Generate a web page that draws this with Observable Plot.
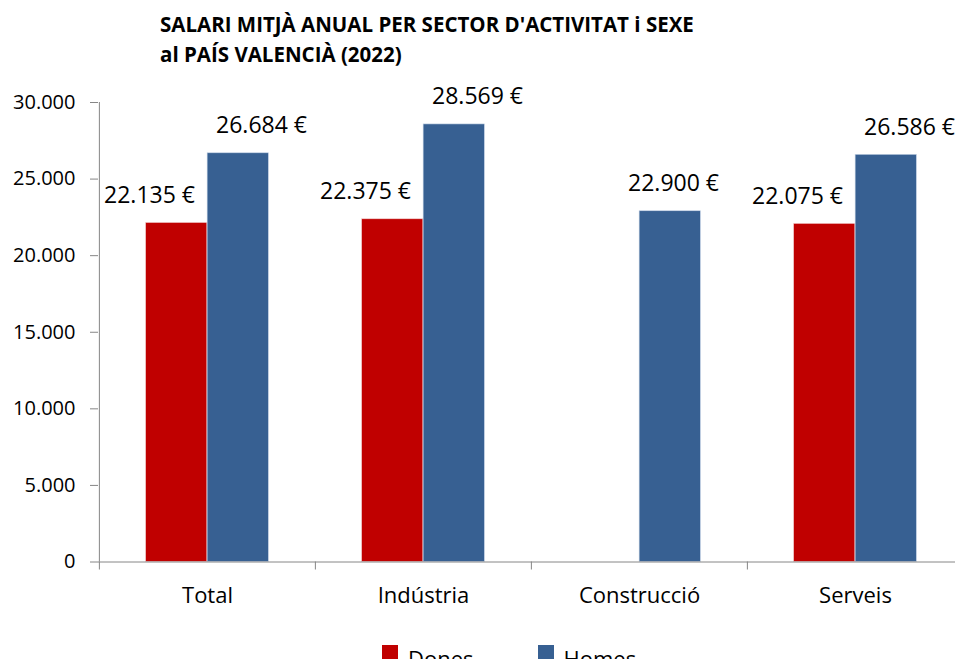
<!DOCTYPE html>
<html>
<head>
<meta charset="utf-8">
<script src="https://cdn.jsdelivr.net/npm/d3@7"></script>
<script src="https://cdn.jsdelivr.net/npm/@observablehq/plot@0.6"></script>
<style>
  html, body { margin: 0; padding: 0; background: #fff; overflow: hidden; }
  #wrap { position: relative; width: 955px; height: 659px; overflow: hidden; font-family: "Open Sans", sans-serif; color: #000; }
  #chart { position: absolute; left: 0; top: 0; width: 1000px; }
  #chart svg { max-width: none !important; }
  #title { position: absolute; left: 160px; top: 9px; font-weight: bold; font-size: 20.5px; line-height: 30px; white-space: nowrap; }
  #legend { position: absolute; top: 641px; left: 382px; font-size: 22px; white-space: nowrap; }
  #legend span.item { display: inline-flex; align-items: flex-start; }
  #legend span.sw { display: inline-block; width: 16px; height: 20px; margin-top: 2px; margin-right: 10px; }
</style>
</head>
<body>
<div id="wrap">
  <div id="chart"></div>
  <div id="title">SALARI MITJÀ ANUAL PER SECTOR D'ACTIVITAT i SEXE<br>al PAÍS VALENCIÀ (2022)</div>
  <div id="legend"></div>
</div>
<script>
// ---- data ----
const categories = ["Total", "Indústria", "Construcció", "Serveis"];
const dones = [22135, 22375, null, 22075];
const homes = [26684, 28569, 22900, 26586];
const seriesNames = ["Dones", "Homes"];
const yTicks = [0, 5000, 10000, 15000, 20000, 25000, 30000];

// ---- styling ----
const colors = {Dones: "#C00000", Homes: "#376092"};
const loc = d3.formatLocale({decimal: ",", thousands: ".", grouping: [3], currency: ["", " €"]});
const fmt = loc.format(",d");
const euro = v => fmt(v) + " €";

const rowsD = categories.map((c, i) => ({cat: c, v: dones[i]})).filter(d => d.v != null);
const rowsH = categories.map((c, i) => ({cat: c, v: homes[i]})).filter(d => d.v != null);

const width = 970, marginLeft = 98, marginRight = 7;
const band = (width - marginLeft - marginRight) / categories.length;
const half = band / 2;
const barW = 61.5;
const outer = half - barW;

const chart = Plot.plot({
  width,
  height: 659,
  marginLeft,
  marginRight,
  marginTop: 102,
  marginBottom: 97.5,
  style: {fontFamily: "Open Sans, sans-serif", color: "#000", background: "transparent", overflow: "visible", maxWidth: "none"},
  x: {type: "band", domain: categories, padding: 0, axis: null, label: null},
  y: {domain: [0, 30000], axis: null, label: null},
  marks: [
    Plot.barY(rowsD, {x: "cat", y: "v", fill: colors.Dones, insetLeft: outer, insetRight: half, stroke: "#f2d0d0", strokeWidth: 0.6}),
    Plot.barY(rowsH, {x: "cat", y: "v", fill: colors.Homes, insetLeft: half, insetRight: outer, stroke: "#c9d6e8", strokeWidth: 0.6}),
    // axis lines
    Plot.ruleY([0], {stroke: "#868686", strokeWidth: 1}),
    Plot.ruleX([categories[0]], {y1: 0, y2: 30000, dx: -half, stroke: "#868686", strokeWidth: 1}),
    Plot.axisY({ticks: yTicks, tickSize: 8, tickPadding: 15, tickFormat: fmt, fontSize: 20, stroke: "#868686", label: null}),
    Plot.axisX({tickSize: 8, tickFormat: () => "", dx: -half, stroke: "#868686", label: null}),
    Plot.axisX({tickSize: 0, tickPadding: 25.5, fontSize: 22, lineAnchor: "top", label: null}),
    // value labels
    Plot.text(rowsD, {x: "cat", y: "v", text: d => euro(d.v), dx: -58, dy: -20, lineAnchor: "bottom", fontSize: 23, fill: "#000"}),
    Plot.text(rowsH.filter(d => d.cat !== "Construcció"), {x: "cat", y: "v", text: d => euro(d.v), dx: 54, dy: -20, lineAnchor: "bottom", fontSize: 23, fill: "#000"}),
    Plot.text(rowsH.filter(d => d.cat === "Construcció"), {x: "cat", y: "v", text: d => euro(d.v), dx: 34, dy: -20, lineAnchor: "bottom", fontSize: 23, fill: "#000"})
  ]
});
document.getElementById("chart").appendChild(chart);

// legend
const legend = document.getElementById("legend");
seriesNames.forEach((s, i) => {
  const item = document.createElement("span");
  item.className = "item";
  item.style.marginRight = i === 0 ? "64px" : "0";
  const sw = document.createElement("span");
  sw.className = "sw";
  sw.style.background = colors[s];
  const t = document.createElement("span");
  t.textContent = s;
  item.appendChild(sw);
  item.appendChild(t);
  legend.appendChild(item);
});
</script>
</body>
</html>
